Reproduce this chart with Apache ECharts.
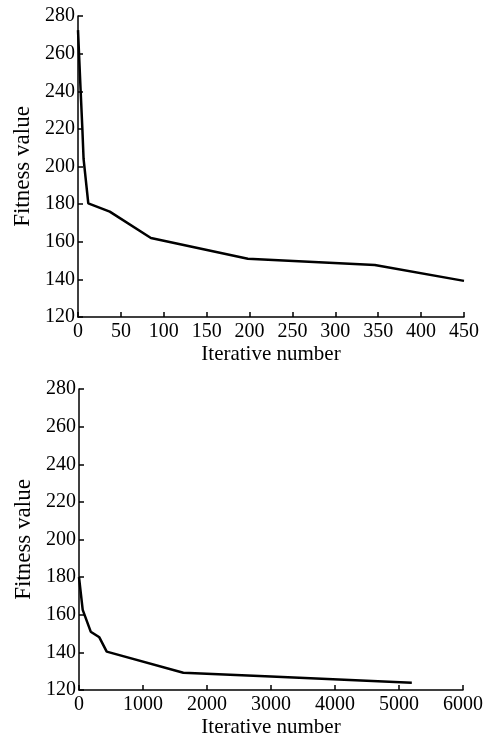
<!DOCTYPE html>
<html>
<head>
<meta charset="utf-8">
<script src="https://cdn.jsdelivr.net/npm/echarts@6/dist/echarts.min.js"></script>
<style>
html,body{margin:0;padding:0;background:#fff;}
#c{width:487px;height:741px;}
</style>
</head>
<body>
<div id="c"></div>
<script>
// Top chart data
const topIter = [0, 3, 5, 6.5, 12, 37, 85, 198, 346, 450];
const topFit = [272.5, 241, 221, 204, 180.4, 176, 162, 151, 147.6, 139.2];
// Bottom chart data
const botIter = [0, 58, 183, 318, 433, 1630, 3000, 5200];
const botFit = [180, 162.6, 151, 148, 140.4, 129.2, 127.2, 123.9];
// Axis ticks
const yMin = 120, yMax = 280, yStep = 20;
const topXMax = 450, topXStep = 50;
const botXMax = 6000, botXStep = 1000;
const xName = 'Iterative number';
const yName = 'Fitness value';

const font = 'Liberation Serif';
const axisLine = {show: true, lineStyle: {color: '#000', width: 1.5}};
const axisTick = {show: true, inside: true, length: 5, lineStyle: {color: '#000', width: 1.5}};
const labelX = {color: '#000', fontFamily: font, fontSize: 20, margin: 5, formatter: v => String(v)};
const labelY = {color: '#000', fontFamily: font, fontSize: 20, margin: 3, formatter: v => String(v)};

function xAx(idx, max, step) {
  return {
    type: 'value', gridIndex: idx, min: 0, max: max, interval: step,
    name: xName, nameLocation: 'middle', nameGap: 27,
    nameTextStyle: {color: '#000', fontFamily: font, fontSize: 21},
    axisLine: axisLine, axisTick: axisTick, axisLabel: labelX,
    splitLine: {show: false}
  };
}
function yAx(idx) {
  return {
    type: 'value', gridIndex: idx, min: yMin, max: yMax, interval: yStep,
    name: yName, nameLocation: 'middle', nameGap: 41,
    nameTextStyle: {color: '#000', fontFamily: font, fontSize: 23},
    axisLine: axisLine, axisTick: axisTick, axisLabel: labelY,
    splitLine: {show: false}
  };
}

const chart = echarts.init(document.getElementById('c'), null, {renderer: 'canvas'});
chart.setOption({
  backgroundColor: '#fff',
  animation: false,
  grid: [
    {left: 78, right: 23, top: 16, height: 301},
    {left: 79, right: 24, top: 389, height: 301}
  ],
  xAxis: [xAx(0, topXMax, topXStep), xAx(1, botXMax, botXStep)],
  yAxis: [yAx(0), yAx(1)],
  series: [
    {
      type: 'line', xAxisIndex: 0, yAxisIndex: 0, showSymbol: false,
      lineStyle: {color: '#000', width: 2.5},
      data: topIter.map((v, i) => [v, topFit[i]])
    },
    {
      type: 'line', xAxisIndex: 1, yAxisIndex: 1, showSymbol: false,
      lineStyle: {color: '#000', width: 2.5},
      data: botIter.map((v, i) => [v, botFit[i]])
    }
  ]
});
</script>
</body>
</html>
